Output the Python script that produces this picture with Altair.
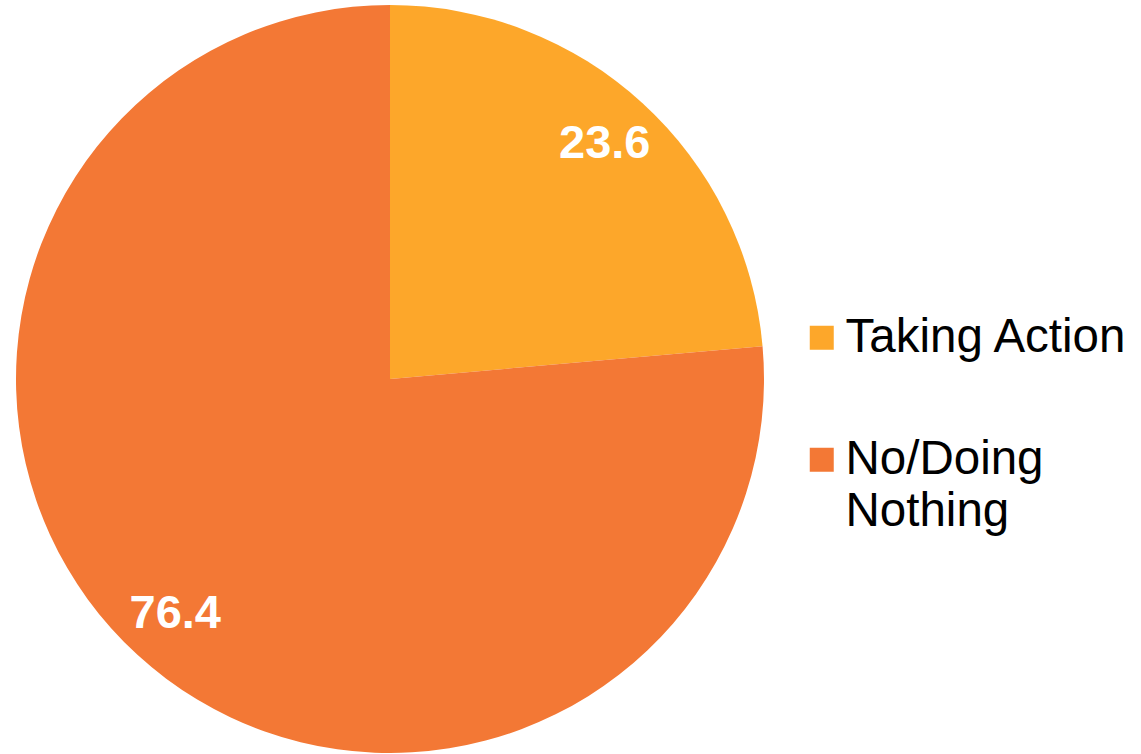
import altair as alt
import pandas as pd

# Share of respondents by response
categories = ["Taking Action", "No/Doing Nothing"]
shares = [23.6, 76.4]
colors = ["#FDA72A", "#F37835"]

df = pd.DataFrame({
    "category": categories,
    "share": shares,
    "rank": list(range(len(categories))),
})

base = alt.Chart(df).encode(
    theta=alt.Theta("share:Q", stack=True),
    order=alt.Order("rank:Q"),
)

pie = base.mark_arc(outerRadius=374, yOffset=2, stroke=None).encode(
    color=alt.Color(
        "category:N",
        sort=categories,
        scale=alt.Scale(domain=categories, range=colors),
        legend=alt.Legend(
            title=None,
            orient="none",
            legendX=798,
            legendY=314,
            symbolType="square",
            symbolSize=576,
            symbolStrokeWidth=0,
            symbolOpacity=1,
            labelFont="Liberation Sans",
            labelFontSize=47.5,
            labelColor="#000000",
            labelLimit=400,
            labelOffset=0,
            rowPadding=73,
            labelExpr="datum.label == 'No/Doing Nothing' ? ['No/Doing', 'Nothing'] : datum.label",
        ),
    ),
)

labels = base.mark_text(
    radius=318,
    yOffset=2,
    font="Liberation Sans",
    fontSize=47,
    fontWeight="bold",
    color="white",
    baseline="middle",
    align="center",
).encode(text=alt.Text("share:Q", format=".1f"))

chart = (
    alt.layer(pie, labels)
    .properties(
        width=780,
        height=754,
        autosize=alt.AutoSizeParams(type="none"),
        padding={"left": 0, "top": 0, "right": 361, "bottom": 0},
    )
    .configure(background="white", style={"guide-label": {"lineHeight": 52}})
    .configure_view(stroke=None)
)

chart.save("out.html", embed_options={"renderer": "svg", "actions": False})
